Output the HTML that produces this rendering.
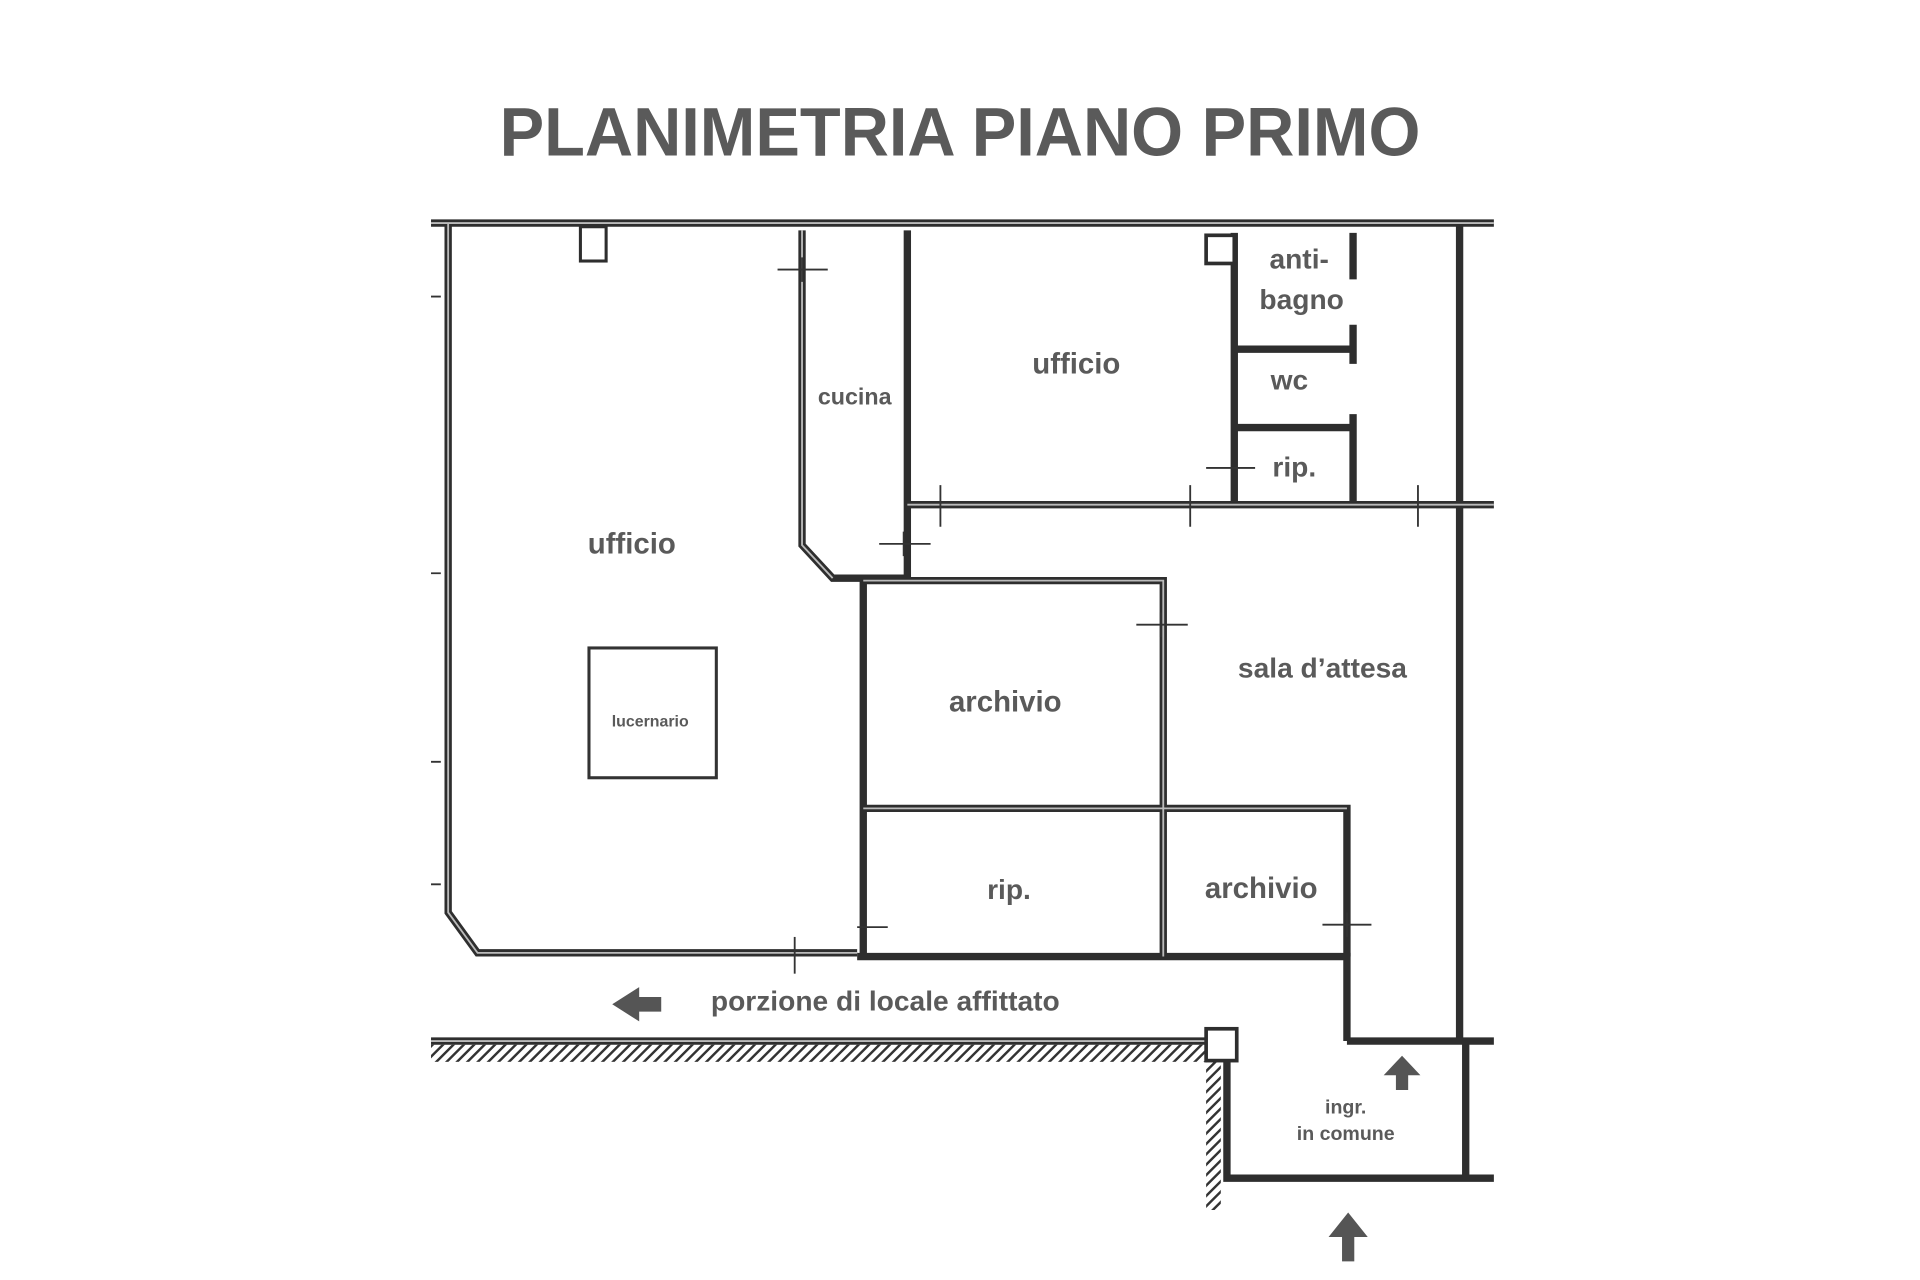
<!DOCTYPE html>
<html><head><meta charset="utf-8"><style>
html,body{margin:0;padding:0;background:#fff;}
svg{display:block;}
text{font-family:"Liberation Sans",sans-serif;font-weight:bold;fill:#5a5a5a;text-anchor:middle;}
</style></head><body>
<svg width="1920" height="1280" viewBox="0 0 1568 1045" xmlns="http://www.w3.org/2000/svg">
<defs>
<pattern id="h" width="6" height="6" patternUnits="userSpaceOnUse" patternTransform="rotate(45)">
<rect width="2" height="6" fill="#333"/></pattern>
</defs>
<text x="784" y="127" font-size="56" textLength="752" lengthAdjust="spacingAndGlyphs">PLANIMETRIA PIANO PRIMO</text>
<g fill="none" stroke="#2e2e2e" stroke-width="6" stroke-linejoin="miter">
<path d="M352 182 H1220"/>
<path d="M366 182 V745 L390 778 H700"/>
<path d="M700 781 H1100 V850"/>
<path d="M655 188 V445 L680 472 H741"/>
<path d="M741 188 V472"/>
<path d="M741 412 H1220"/>
<path d="M1192 182 V850"/>
<path d="M1008 190 V410"/>
<path d="M1105 190 V228 M1105 265 V297 M1105 338 V410"/>
<path d="M1008 285 H1105 M1008 349 H1105"/>
<path d="M705 474 H950 V781"/>
<path d="M705 474 V781"/>
<path d="M705 660 H1100 V781"/>
<path d="M352 850 H985"/>
<path d="M1100 850 H1220"/>
<path d="M1002 852 V962 H1220"/>
<path d="M1197 852 V962"/>
</g>
<g fill="none" stroke="#bbb" stroke-width="1.5">
<path d="M352 182 H1220"/>
<path d="M366 182 V745 L390 778 H700"/>
<path d="M655 188 V445 L680 472"/>
<path d="M741 412 H1220"/>
<path d="M705 474 H950 V781"/>
<path d="M705 660 H1100"/>
<path d="M352 850 H985"/>
</g>
<rect x="352" y="853" width="633" height="14" fill="url(#h)"/>
<rect x="985" y="866" width="12" height="122" fill="url(#h)"/>
<rect x="985" y="840" width="25" height="26" fill="#fff" stroke="#2e2e2e" stroke-width="3"/>
<rect x="985" y="192" width="23" height="23" fill="#fff" stroke="#2e2e2e" stroke-width="3"/>
<rect x="474" y="185" width="21" height="28" fill="#fff" stroke="#2e2e2e" stroke-width="2.5"/>
<rect x="481" y="529" width="104" height="106" fill="#fff" stroke="#333" stroke-width="2.5"/>
<g stroke="#333" stroke-width="1.5">
<path d="M635 220 H676 M655 210 V230"/>
<path d="M718 444 H760 M738 434 V454"/>
<path d="M928 510 H970 M948 500 V520"/>
<path d="M985 382 H1025"/>
<path d="M768 396 V430 M972 396 V430 M1158 396 V430"/>
<path d="M1080 755 H1120 M1100 745 V765"/>
<path d="M700 757 H725"/>
<path d="M649 765 V795"/>
<path d="M352 242 H360 M352 468 H360 M352 622 H360 M352 722 H360"/>
</g>
<g fill="#555">
<path d="M500 820 L522 806 V814 H540 V826 H522 V834 Z"/>
<path d="M1145 862 L1130 878 H1140 V890 H1150 V878 H1160 Z"/>
<path d="M1101 990 L1085 1010 H1096 V1030 H1106 V1010 H1117 Z"/>
</g>
<text x="516" y="452" font-size="24">ufficio</text>
<text x="698" y="330" font-size="19">cucina</text>
<text x="879" y="305" font-size="24">ufficio</text>
<text x="1061" y="219" font-size="23">anti-</text>
<text x="1063" y="252" font-size="23">bagno</text>
<text x="1053" y="318" font-size="23">wc</text>
<text x="1057" y="389" font-size="23">rip.</text>
<text x="1080" y="553" font-size="23">sala d’attesa</text>
<text x="821" y="581" font-size="24">archivio</text>
<text x="531" y="593" font-size="13">lucernario</text>
<text x="824" y="734" font-size="23">rip.</text>
<text x="1030" y="733" font-size="24">archivio</text>
<text x="723" y="825" font-size="23">porzione di locale affittato</text>
<text x="1099" y="909" font-size="16">ingr.</text>
<text x="1099" y="931" font-size="16">in comune</text>
</svg>
</body></html>
